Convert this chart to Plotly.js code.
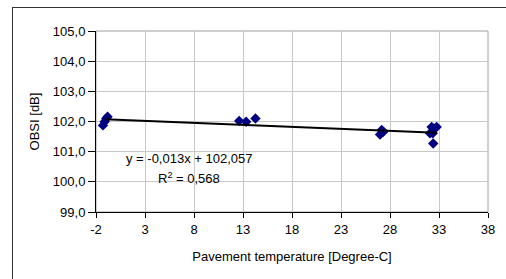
<!DOCTYPE html>
<html>
<head>
<meta charset="utf-8">
<script src="https://cdn.plot.ly/plotly-3.0.1.min.js"></script>
<style>
html,body{margin:0;padding:0;overflow:hidden;background:#fff;}
#wrap{position:relative;width:506px;height:279px;}
#chart{position:absolute;left:0;top:0;width:506px;height:279px;}
#frame{position:absolute;left:12px;top:7px;width:600px;height:400px;border:1px solid #333;pointer-events:none;}
</style>
</head>
<body>
<div id="wrap"><div id="chart"></div><div id="frame"></div></div>
<script>
const temperature = [-1.29, -1.12, -0.95, -0.82, 12.61, 13.32, 14.27, 26.98, 27.15, 27.32, 32.08, 32.25, 32.36, 32.41, 32.48, 32.76];
const obsi = [101.87, 101.99, 102.10, 102.16, 102.02, 101.99, 102.10, 101.57, 101.72, 101.66, 101.61, 101.82, 101.61, 101.27, 101.77, 101.82];
const trendSlope = -0.013;
const trendIntercept = 102.057;
const trendR2 = 0.568;
const xTickVals = [-2, 3, 8, 13, 18, 23, 28, 33, 38];
const yTickVals = [99, 100, 101, 102, 103, 104, 105];

const xMin = Math.min(...temperature) + 0.2, xMax = Math.max(...temperature);
const trendX = [xMin, xMax];
const trendY = trendX.map(x => trendSlope * x + trendIntercept);

const fmt = (v, d) => v.toFixed(d).replace('.', ',');

const data = [
  {x: temperature, y: obsi, type: 'scatter', mode: 'markers',
   marker: {symbol: 'diamond', size: 8, color: '#000080'}, hoverinfo: 'none'},
  {x: trendX, y: trendY, type: 'scatter', mode: 'lines',
   line: {color: '#000', width: 2}, hoverinfo: 'none'}
];

const font = {family: 'Liberation Sans, Arial, sans-serif', size: 13, color: '#000'};

const layout = {
  width: 506, height: 279,
  margin: {l: 96, r: 18, t: 31, b: 67},
  paper_bgcolor: '#fff', plot_bgcolor: '#fff',
  showlegend: false,
  separators: ',.',
  font: font,
  xaxis: {
    range: [-2, 38], tickvals: xTickVals, ticktext: xTickVals.map(String),
    showgrid: true, gridcolor: '#c8c8c8', gridwidth: 1,
    showline: true, linecolor: '#000', linewidth: 1,
    ticks: 'outside', ticklen: 5, tickcolor: '#000', zeroline: false,
    tickfont: font,
    title: {text: 'Pavement temperature [Degree-C]', font: font, standoff: 16}
  },
  yaxis: {
    range: [99, 105], tickvals: yTickVals, ticktext: yTickVals.map(v => fmt(v, 1)),
    showgrid: true, gridcolor: '#c8c8c8', gridwidth: 1,
    showline: true, linecolor: '#000', linewidth: 1,
    ticks: 'outside', ticklen: 7, tickcolor: '#000', zeroline: false,
    tickfont: font,
    title: {text: 'OBSI [dB]', font: font, standoff: 10}
  },
  shapes: [
    {type: 'rect', xref: 'paper', yref: 'paper', x0: 0, x1: 1, y0: 0, y1: 1,
     line: {color: '#a0a0a0', width: 1}, layer: 'below'}
  ],
  annotations: [
    {x: 7.5, y: 100.79, xref: 'x', yref: 'y', showarrow: false, font: font,
     text: 'y = ' + fmt(trendSlope, 3) + 'x + ' + fmt(trendIntercept, 3)},
    {x: 7.5, y: 100.13, xref: 'x', yref: 'y', showarrow: false, font: font,
     text: 'R<sup>2</sup> = ' + fmt(trendR2, 3)}
  ]
};

Plotly.newPlot('chart', data, layout, {staticPlot: true, displayModeBar: false});
</script>
</body>
</html>
